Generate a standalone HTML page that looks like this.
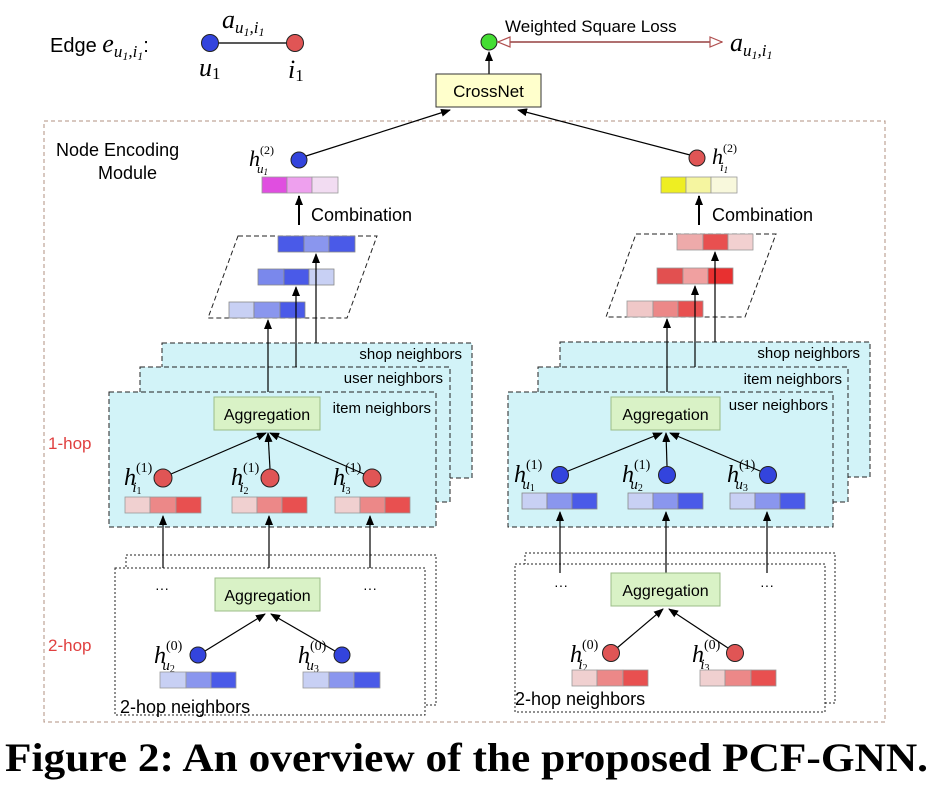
<!DOCTYPE html>
<html><head><meta charset="utf-8"><style>
html,body{margin:0;padding:0;background:#fff;width:934px;height:794px;overflow:hidden}
svg{display:block}
.s{font-family:"Liberation Sans",sans-serif}
.m{font-family:"Liberation Serif",serif;font-style:italic}
</style></head><body>
<svg width="934" height="794" viewBox="0 0 934 794" xmlns="http://www.w3.org/2000/svg">
<defs>
<marker id="a" markerWidth="10" markerHeight="8" refX="9" refY="4" orient="auto" markerUnits="userSpaceOnUse"><path d="M0,0 L10,4 L0,8 z" fill="#000"/></marker>
<marker id="h" markerWidth="14" markerHeight="12" refX="13" refY="6" orient="auto" markerUnits="userSpaceOnUse"><path d="M1,1 L13,6 L1,11 z" fill="#fff" stroke="#b05050" stroke-width="1.2"/></marker>
</defs>

<!-- top edge -->
<text x="50" y="52" class="s" font-size="20">Edge <tspan class="m" font-size="26">e</tspan><tspan class="m" font-size="17" dy="5">u</tspan><tspan class="m" font-size="12" dy="3">1</tspan><tspan class="m" font-size="17" dy="-3">,i</tspan><tspan class="m" font-size="12" dy="3">1</tspan><tspan font-size="20" dy="-8">:</tspan></text>
<line x1="210" y1="43" x2="295" y2="43" stroke="#222" stroke-width="1.5"/>
<circle cx="210" cy="43" r="8.5" fill="#3344dd" stroke="#222"/>
<circle cx="295" cy="43" r="8.5" fill="#e05555" stroke="#222"/>
<text x="222" y="28" class="m" font-size="26">a<tspan font-size="17" dy="5">u</tspan><tspan font-size="12" dy="3">1</tspan><tspan font-size="17" dy="-3">,i</tspan><tspan font-size="12" dy="3">1</tspan></text>
<text x="199" y="76" class="m" font-size="26">u<tspan font-size="17" dy="3" font-style="normal">1</tspan></text>
<text x="288" y="78" class="m" font-size="26">i<tspan font-size="17" dy="3" font-style="normal">1</tspan></text>

<!-- loss -->
<line x1="489" y1="74" x2="489" y2="52" stroke="#000" stroke-width="1.3" marker-end="url(#a)"/>
<circle cx="489" cy="42" r="8" fill="#44dd33" stroke="#222"/>
<line x1="550" y1="42" x2="498" y2="42" stroke="#b07070" stroke-width="2" marker-end="url(#h)"/>
<line x1="540" y1="42" x2="722" y2="42" stroke="#b07070" stroke-width="2" marker-end="url(#h)"/>
<text x="505" y="32" class="s" font-size="17">Weighted Square Loss</text>
<text x="730" y="51" class="m" font-size="26">a<tspan font-size="17" dy="5">u</tspan><tspan font-size="12" dy="3">1</tspan><tspan font-size="17" dy="-3">,i</tspan><tspan font-size="12" dy="3">1</tspan></text>
<rect x="436" y="74" width="105" height="33" fill="#ffffcc" stroke="#333"/>
<text x="488.5" y="97" class="s" font-size="17" text-anchor="middle">CrossNet</text>

<!-- outer module -->
<rect x="44" y="121" width="841" height="601" fill="none" stroke="#b09080" stroke-dasharray="4,3"/>
<text x="56" y="156" class="s" font-size="18">Node  Encoding</text>
<text x="98" y="179" class="s" font-size="18">Module</text>

<line x1="306" y1="156" x2="450" y2="110" stroke="#000" stroke-width="1.2" marker-end="url(#a)"/>
<line x1="690" y1="155" x2="518" y2="110" stroke="#000" stroke-width="1.2" marker-end="url(#a)"/>
<circle cx="299" cy="160" r="8" fill="#3344dd" stroke="#222"/>
<circle cx="697" cy="158" r="8" fill="#e05555" stroke="#222"/>
<text x="249" y="166" class="m" font-size="22">h<tspan font-size="12" dy="-12" font-style="normal">(2)</tspan><tspan font-size="13" dx="-17" dy="19">u</tspan><tspan font-size="9" dy="2">1</tspan></text>
<text x="712" y="164" class="m" font-size="22">h<tspan font-size="12" dy="-12" font-style="normal">(2)</tspan><tspan font-size="13" dx="-17" dy="19">i</tspan><tspan font-size="9" dy="2">1</tspan></text>
<g stroke="#999" stroke-width="0.8">
<rect x="262" y="177" width="25" height="16" fill="#e04ee0"/><rect x="287" y="177" width="25" height="16" fill="#eea0ee"/><rect x="312" y="177" width="26" height="16" fill="#f2dcf2"/>
<rect x="661" y="177" width="25" height="16" fill="#eeee22"/><rect x="686" y="177" width="25" height="16" fill="#f5f5a0"/><rect x="711" y="177" width="26" height="16" fill="#f8f8dc"/>
</g>
<line x1="299" y1="225" x2="299" y2="196" stroke="#000" stroke-width="2" marker-end="url(#a)"/>
<text x="311" y="221" class="s" font-size="18">Combination</text>
<line x1="699" y1="225" x2="699" y2="196" stroke="#000" stroke-width="2" marker-end="url(#a)"/>
<text x="712" y="221" class="s" font-size="18">Combination</text>

<!-- LEFT parallelogram -->
<polygon points="238,236 377,236 347,318 208,318" fill="none" stroke="#222" stroke-dasharray="5,3"/>
<g stroke="#888" stroke-width="0.8">
<rect x="278" y="236" width="26" height="16" fill="#4a5ae8"/><rect x="304" y="236" width="25" height="16" fill="#8a96ee"/><rect x="329" y="236" width="26" height="16" fill="#4a5ae8"/>
<rect x="258" y="269" width="26" height="16" fill="#7a88ec"/><rect x="284" y="269" width="25" height="16" fill="#4a5ae8"/><rect x="309" y="269" width="25" height="16" fill="#c8d0f4"/>
<rect x="229" y="302" width="25" height="16" fill="#c8d0f4"/><rect x="254" y="302" width="26" height="16" fill="#8a96ee"/><rect x="280" y="302" width="25" height="16" fill="#4a5ae8"/>
</g>
<!-- RIGHT parallelogram -->
<polygon points="636,234 776,234 745,317 606,317" fill="none" stroke="#222" stroke-dasharray="5,3"/>
<g stroke="#999" stroke-width="0.8">
<rect x="677" y="234" width="26" height="16" fill="#eeaaaa"/><rect x="703" y="234" width="25" height="16" fill="#e85050"/><rect x="728" y="234" width="25" height="16" fill="#f2d0d0"/>
<rect x="657" y="268" width="26" height="16" fill="#e25050"/><rect x="683" y="268" width="25" height="16" fill="#f0a0a0"/><rect x="708" y="268" width="25" height="16" fill="#e83030"/>
<rect x="627" y="301" width="26" height="16" fill="#f0c8c8"/><rect x="653" y="301" width="25" height="16" fill="#ec8888"/><rect x="678" y="301" width="25" height="16" fill="#e85050"/>
</g>

<!-- LEFT stack -->
<g stroke="#222" stroke-dasharray="5,3" fill="#d2f3f8">
<rect x="162" y="343" width="310" height="135"/>
<rect x="140" y="367" width="310" height="135"/>
<rect x="109" y="392" width="327" height="135"/>
</g>
<text x="462" y="359" class="s" font-size="15" text-anchor="end">shop neighbors</text>
<text x="443" y="383" class="s" font-size="15" text-anchor="end">user neighbors</text>
<text x="431" y="413" class="s" font-size="15" text-anchor="end">item neighbors</text>
<g stroke="#000" stroke-width="1.2">
<line x1="316" y1="343" x2="316" y2="254" marker-end="url(#a)"/>
<line x1="296" y1="367" x2="296" y2="287" marker-end="url(#a)"/>
<line x1="268" y1="392" x2="268" y2="320" marker-end="url(#a)"/>
</g>
<rect x="214" y="397" width="106" height="33" fill="#d9f2c6" stroke="#9cbc88"/>
<text x="267" y="420" class="s" font-size="16" text-anchor="middle">Aggregation</text>
<g stroke="#000" stroke-width="1.2">
<line x1="171" y1="474" x2="266" y2="433" marker-end="url(#a)"/>
<line x1="270" y1="469" x2="268" y2="433" marker-end="url(#a)"/>
<line x1="364" y1="474" x2="270" y2="433" marker-end="url(#a)"/>
</g>
<g fill="#e05555" stroke="#222"><circle cx="163" cy="478" r="9"/><circle cx="270" cy="478" r="9"/><circle cx="372" cy="478" r="9"/></g>
<g class="m" font-size="24">
<text x="124" y="485">h<tspan font-size="14" dy="-13" font-style="normal">(1)</tspan><tspan font-size="15" dx="-20" dy="20">i</tspan><tspan font-size="10" dy="2" font-style="normal">1</tspan></text>
<text x="231" y="485">h<tspan font-size="14" dy="-13" font-style="normal">(1)</tspan><tspan font-size="15" dx="-20" dy="20">i</tspan><tspan font-size="10" dy="2" font-style="normal">2</tspan></text>
<text x="333" y="485">h<tspan font-size="14" dy="-13" font-style="normal">(1)</tspan><tspan font-size="15" dx="-20" dy="20">i</tspan><tspan font-size="10" dy="2" font-style="normal">3</tspan></text>
</g>
<g stroke="#999" stroke-width="0.8">
<rect x="125" y="497" width="25" height="16" fill="#f0d0d0"/><rect x="150" y="497" width="26" height="16" fill="#ec8888"/><rect x="176" y="497" width="25" height="16" fill="#e85050"/>
<rect x="232" y="497" width="25" height="16" fill="#f0d0d0"/><rect x="257" y="497" width="25" height="16" fill="#ec8888"/><rect x="282" y="497" width="25" height="16" fill="#e85050"/>
<rect x="335" y="497" width="25" height="16" fill="#f0d0d0"/><rect x="360" y="497" width="25" height="16" fill="#ec8888"/><rect x="385" y="497" width="25" height="16" fill="#e85050"/>
</g>
<text x="48" y="449" class="s" font-size="17" fill="#e04040">1-hop</text>
<text x="48" y="651" class="s" font-size="17" fill="#e04040">2-hop</text>

<!-- LEFT 2-hop -->
<g stroke="#222" stroke-dasharray="2,2" fill="#fff">
<rect x="126" y="555" width="310" height="150"/>
<rect x="115" y="568" width="310" height="147"/>
</g>
<g stroke="#000" stroke-width="1.2">
<line x1="163" y1="568" x2="163" y2="516" marker-end="url(#a)"/>
<line x1="269" y1="568" x2="269" y2="516" marker-end="url(#a)"/>
<line x1="370" y1="568" x2="370" y2="516" marker-end="url(#a)"/>
</g>
<text x="162" y="593" class="s" font-size="14" text-anchor="middle">···</text>
<text x="370" y="593" class="s" font-size="14" text-anchor="middle">···</text>
<rect x="215" y="578" width="105" height="33" fill="#d9f2c6" stroke="#9cbc88"/>
<text x="267.5" y="601" class="s" font-size="16" text-anchor="middle">Aggregation</text>
<g stroke="#000" stroke-width="1.2">
<line x1="205" y1="651" x2="265" y2="614" marker-end="url(#a)"/>
<line x1="335" y1="651" x2="271" y2="614" marker-end="url(#a)"/>
</g>
<g fill="#3344dd" stroke="#222"><circle cx="198" cy="655" r="8"/><circle cx="342" cy="655" r="8"/></g>
<g class="m" font-size="24">
<text x="154" y="663">h<tspan font-size="14" dy="-13" font-style="normal">(0)</tspan><tspan font-size="15" dx="-20" dy="20">u</tspan><tspan font-size="10" dy="2" font-style="normal">2</tspan></text>
<text x="298" y="663">h<tspan font-size="14" dy="-13" font-style="normal">(0)</tspan><tspan font-size="15" dx="-20" dy="20">u</tspan><tspan font-size="10" dy="2" font-style="normal">3</tspan></text>
</g>
<g stroke="#999" stroke-width="0.8">
<rect x="160" y="672" width="26" height="16" fill="#c8d0f4"/><rect x="186" y="672" width="25" height="16" fill="#8a96ee"/><rect x="211" y="672" width="25" height="16" fill="#4a5ae8"/>
<rect x="303" y="672" width="26" height="16" fill="#c8d0f4"/><rect x="329" y="672" width="25" height="16" fill="#8a96ee"/><rect x="354" y="672" width="26" height="16" fill="#4a5ae8"/>
</g>
<text x="120" y="713" class="s" font-size="18">2-hop neighbors</text>

<!-- RIGHT stack -->
<g stroke="#222" stroke-dasharray="5,3" fill="#d2f3f8">
<rect x="560" y="342" width="310" height="135"/>
<rect x="538" y="367" width="310" height="135"/>
<rect x="508" y="392" width="325" height="135"/>
</g>
<text x="860" y="358" class="s" font-size="15" text-anchor="end">shop neighbors</text>
<text x="842" y="384" class="s" font-size="15" text-anchor="end">item neighbors</text>
<text x="828" y="410" class="s" font-size="15" text-anchor="end">user neighbors</text>
<g stroke="#000" stroke-width="1.2">
<line x1="715" y1="342" x2="715" y2="252" marker-end="url(#a)"/>
<line x1="695" y1="367" x2="695" y2="286" marker-end="url(#a)"/>
<line x1="667" y1="392" x2="667" y2="319" marker-end="url(#a)"/>
</g>
<rect x="611" y="397" width="109" height="33" fill="#d9f2c6" stroke="#9cbc88"/>
<text x="665.5" y="420" class="s" font-size="16" text-anchor="middle">Aggregation</text>
<g stroke="#000" stroke-width="1.2">
<line x1="568" y1="471" x2="662" y2="433" marker-end="url(#a)"/>
<line x1="667" y1="466" x2="666" y2="433" marker-end="url(#a)"/>
<line x1="760" y1="471" x2="670" y2="433" marker-end="url(#a)"/>
</g>
<g fill="#3344dd" stroke="#222"><circle cx="560" cy="475" r="8.5"/><circle cx="667" cy="475" r="8.5"/><circle cx="768" cy="475" r="8.5"/></g>
<g class="m" font-size="24">
<text x="514" y="482">h<tspan font-size="14" dy="-13" font-style="normal">(1)</tspan><tspan font-size="15" dx="-20" dy="20">u</tspan><tspan font-size="10" dy="2" font-style="normal">1</tspan></text>
<text x="622" y="482">h<tspan font-size="14" dy="-13" font-style="normal">(1)</tspan><tspan font-size="15" dx="-20" dy="20">u</tspan><tspan font-size="10" dy="2" font-style="normal">2</tspan></text>
<text x="727" y="482">h<tspan font-size="14" dy="-13" font-style="normal">(1)</tspan><tspan font-size="15" dx="-20" dy="20">u</tspan><tspan font-size="10" dy="2" font-style="normal">3</tspan></text>
</g>
<g stroke="#888" stroke-width="0.8">
<rect x="522" y="493" width="25" height="16" fill="#c8d0f4"/><rect x="547" y="493" width="25" height="16" fill="#8a96ee"/><rect x="572" y="493" width="25" height="16" fill="#4a5ae8"/>
<rect x="628" y="493" width="25" height="16" fill="#c8d0f4"/><rect x="653" y="493" width="25" height="16" fill="#8a96ee"/><rect x="678" y="493" width="25" height="16" fill="#4a5ae8"/>
<rect x="730" y="493" width="25" height="16" fill="#c8d0f4"/><rect x="755" y="493" width="25" height="16" fill="#8a96ee"/><rect x="780" y="493" width="25" height="16" fill="#4a5ae8"/>
</g>

<!-- RIGHT 2-hop -->
<g stroke="#222" stroke-dasharray="2,2" fill="#fff">
<rect x="525" y="553" width="310" height="150"/>
<rect x="515" y="564" width="310" height="148"/>
</g>
<g stroke="#000" stroke-width="1.2">
<line x1="560" y1="573" x2="560" y2="512" marker-end="url(#a)"/>
<line x1="666" y1="573" x2="666" y2="512" marker-end="url(#a)"/>
<line x1="767" y1="573" x2="767" y2="512" marker-end="url(#a)"/>
</g>
<text x="561" y="590" class="s" font-size="14" text-anchor="middle">···</text>
<text x="767" y="590" class="s" font-size="14" text-anchor="middle">···</text>
<rect x="611" y="573" width="109" height="33" fill="#d9f2c6" stroke="#9cbc88"/>
<text x="665.5" y="596" class="s" font-size="16" text-anchor="middle">Aggregation</text>
<g stroke="#000" stroke-width="1.2">
<line x1="617" y1="648" x2="663" y2="609" marker-end="url(#a)"/>
<line x1="728" y1="648" x2="669" y2="609" marker-end="url(#a)"/>
</g>
<g fill="#e05555" stroke="#222"><circle cx="611" cy="653" r="8.5"/><circle cx="735" cy="653" r="8.5"/></g>
<g class="m" font-size="24">
<text x="570" y="662">h<tspan font-size="14" dy="-13" font-style="normal">(0)</tspan><tspan font-size="15" dx="-20" dy="20">i</tspan><tspan font-size="10" dy="2" font-style="normal">2</tspan></text>
<text x="692" y="662">h<tspan font-size="14" dy="-13" font-style="normal">(0)</tspan><tspan font-size="15" dx="-20" dy="20">i</tspan><tspan font-size="10" dy="2" font-style="normal">3</tspan></text>
</g>
<g stroke="#999" stroke-width="0.8">
<rect x="572" y="670" width="25" height="16" fill="#f0d0d0"/><rect x="597" y="670" width="26" height="16" fill="#ec8888"/><rect x="623" y="670" width="25" height="16" fill="#e85050"/>
<rect x="700" y="670" width="25" height="16" fill="#f0d0d0"/><rect x="725" y="670" width="26" height="16" fill="#ec8888"/><rect x="751" y="670" width="25" height="16" fill="#e85050"/>
</g>
<text x="515" y="705" class="s" font-size="18">2-hop neighbors</text>

<!-- caption -->
<text x="5" y="771" font-family="Liberation Serif, serif" font-weight="bold" font-size="40" textLength="923" lengthAdjust="spacingAndGlyphs">Figure 2: An overview of the proposed PCF-GNN.</text>
</svg>
</body></html>
